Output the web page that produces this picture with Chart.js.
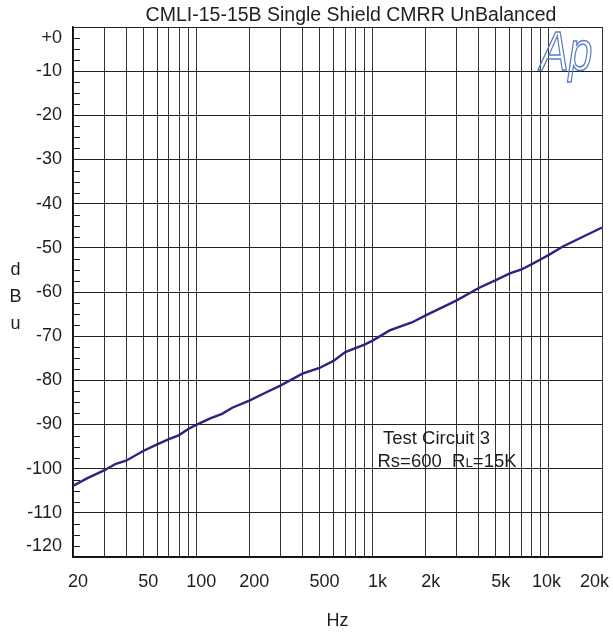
<!DOCTYPE html>
<html><head><meta charset="utf-8">
<script src="https://cdn.jsdelivr.net/npm/chart.js@4"></script>
<style>html,body{margin:0;padding:0;background:#fff}canvas{display:block}</style>
</head><body>
<canvas id="c" width="613" height="634"></canvas>
<script>
// ---- data ----
const freqHz = [20, 24, 30, 35, 40, 50, 60, 70, 80, 90, 100, 120, 140, 160, 200, 250, 300, 400, 500, 600, 700, 900, 1000, 1250, 1670, 2000, 3000, 3540, 4000, 5000, 6000, 7000, 8000, 9000, 10000, 12000, 20000];
const cmrrDbu = [-103.9, -102.2, -100.4, -98.9, -98.2, -96.0, -94.5, -93.3, -92.4, -91.0, -90.1, -88.6, -87.6, -86.2, -84.6, -82.7, -81.2, -78.5, -77.2, -75.6, -73.6, -71.9, -71.0, -68.7, -66.9, -65.3, -61.9, -60.3, -59.1, -57.3, -55.8, -54.9, -53.7, -52.6, -51.6, -49.7, -45.4];
const xGridValues = [20, 30, 40, 50, 60, 70, 80, 90, 100, 200, 300, 400, 500, 600, 700, 800, 900, 1000, 2000, 3000, 4000, 5000, 6000, 7000, 8000, 9000, 10000, 20000];
const xLabelValues = [20, 50, 100, 200, 500, 1000, 2000, 5000, 10000, 20000];
const xLabelTexts = ['20', '50', '100', '200', '500', '1k', '2k', '5k', '10k   ', '20k     '];
const yTickValues = [0, -10, -20, -30, -40, -50, -60, -70, -80, -90, -100, -110, -120];
const yTickLabels = ['+0', '-10', '-20', '-30', '-40', '-50', '-60', '-70', '-80', '-90', '-100', '-110', '-120'];
const yMinorStep = 2.5;
const titleText = 'CMLI-15-15B Single Shield CMRR UnBalanced';
const yAxisTitle = ['d', 'B', 'u'];
const xAxisTitle = 'Hz';
const noteLine1 = 'Test Circuit 3';
const noteLine2 = [['Rs=600  R', 1], ['L', 0.72], ['=15K', 1]];
const logoText = 'Ap';

const FONT = '"Liberation Sans", Arial, sans-serif';
const TXT = '#1e1e1e';
Chart.defaults.font.family = FONT;
Chart.defaults.color = TXT;

const extras = {
  id: 'extras',
  afterDraw(chart) {
    const {ctx, chartArea: a, scales: {x, y}} = chart;
    ctx.save();
    // minor ticks on the left edge
    ctx.strokeStyle = '#222';
    ctx.lineWidth = 1;
    for (let v = -120; v <= 0; v += yMinorStep) {
      if (Math.abs(v % 10) < 1e-9) continue;
      const py = Math.round(y.getPixelForValue(v)) + 0.5;
      ctx.beginPath();
      ctx.moveTo(a.left, py);
      ctx.lineTo(a.left + 7, py);
      ctx.stroke();
    }
    ctx.fillStyle = TXT;
    // title
    ctx.font = '19.5px ' + FONT;
    ctx.textAlign = 'center';
    ctx.textBaseline = 'middle';
    ctx.fillText(titleText, a.left + 278, a.top - 11);
    // y axis title stacked letters
    ctx.font = '18px ' + FONT;
    const midY = (a.top + a.bottom) / 2;
    yAxisTitle.forEach((ch, i) => ctx.fillText(ch, 15.5, midY + 5 + (i - 1) * 27));
    // note text
    ctx.textAlign = 'left';
    ctx.textBaseline = 'alphabetic';
    ctx.font = '18.5px ' + FONT;
    ctx.fillText(noteLine1, a.left + 310, a.top + 417);
    let nx = a.left + 304.5;
    noteLine2.forEach(([t, s]) => {
      ctx.font = (18.5 * s) + 'px ' + FONT;
      ctx.fillText(t, nx, a.top + 439.5);
      nx += ctx.measureText(t).width;
    });
    // logo
    ctx.translate(a.right - 62, a.top + 43);
    ctx.scale(0.78, 1);
    ctx.font = 'italic 55px ' + FONT;
    ctx.strokeStyle = '#5a7cc2';
    ctx.lineWidth = 1.5;
    ctx.strokeText(logoText, 0, 0);
    ctx.restore();
  }
};

new Chart(document.getElementById('c'), {
  type: 'scatter',
  data: {
    datasets: [{
      data: freqHz.map((f, i) => ({x: f, y: cmrrDbu[i]})),
      showLine: true,
      borderColor: '#2b2480',
      borderWidth: 2.4,
      pointRadius: 0,
      tension: 0,
      fill: false
    }]
  },
  options: {
    responsive: false,
    animation: false,
    layout: {padding: {left: 0, right: 11, top: 27, bottom: 0}},
    plugins: {
      legend: {display: false},
      tooltip: {enabled: false},
      title: {display: false}
    },
    scales: {
      x: {
        type: 'logarithmic', min: 20, max: 20000,
        afterBuildTicks: s => { s.ticks = xGridValues.map(v => ({value: v})); },
        afterFit: s => { s.height = 77; s.paddingLeft = 0; s.paddingRight = 0; },
        ticks: {
          autoSkip: false, maxRotation: 0, minRotation: 0,
          font: {size: 18}, color: TXT, padding: 14, labelOffset: 5,
          callback: v => { const i = xLabelValues.indexOf(v); return i >= 0 ? xLabelTexts[i] : ''; }
        },
        grid: {color: '#333', lineWidth: 1, drawTicks: false},
        border: {display: true, color: '#111', width: 1.5},
        title: {display: true, text: xAxisTitle, color: TXT, font: {size: 18, lineHeight: 1.2}, padding: {top: 0, bottom: 2}}
      },
      y: {
        type: 'linear', min: -120, max: 0,
        afterBuildTicks: s => { s.ticks = yTickValues.map(v => ({value: v})); },
        afterFit: s => { s.width = 73; s.paddingTop = 0; s.paddingBottom = 0; },
        ticks: {
          autoSkip: false,
          font: {size: 18}, color: TXT, padding: 11,
          callback: v => {
            const i = yTickValues.indexOf(v);
            const t = i >= 0 ? yTickLabels[i] : '';
            if (v === 0) return ['', t];
            if (v === -120) return [t, ''];
            return t;
          }
        },
        grid: {color: '#222', lineWidth: 1, drawTicks: false},
        border: {display: true, color: '#111', width: 1.5}
      }
    }
  },
  plugins: [extras]
});
</script>
</body></html>
